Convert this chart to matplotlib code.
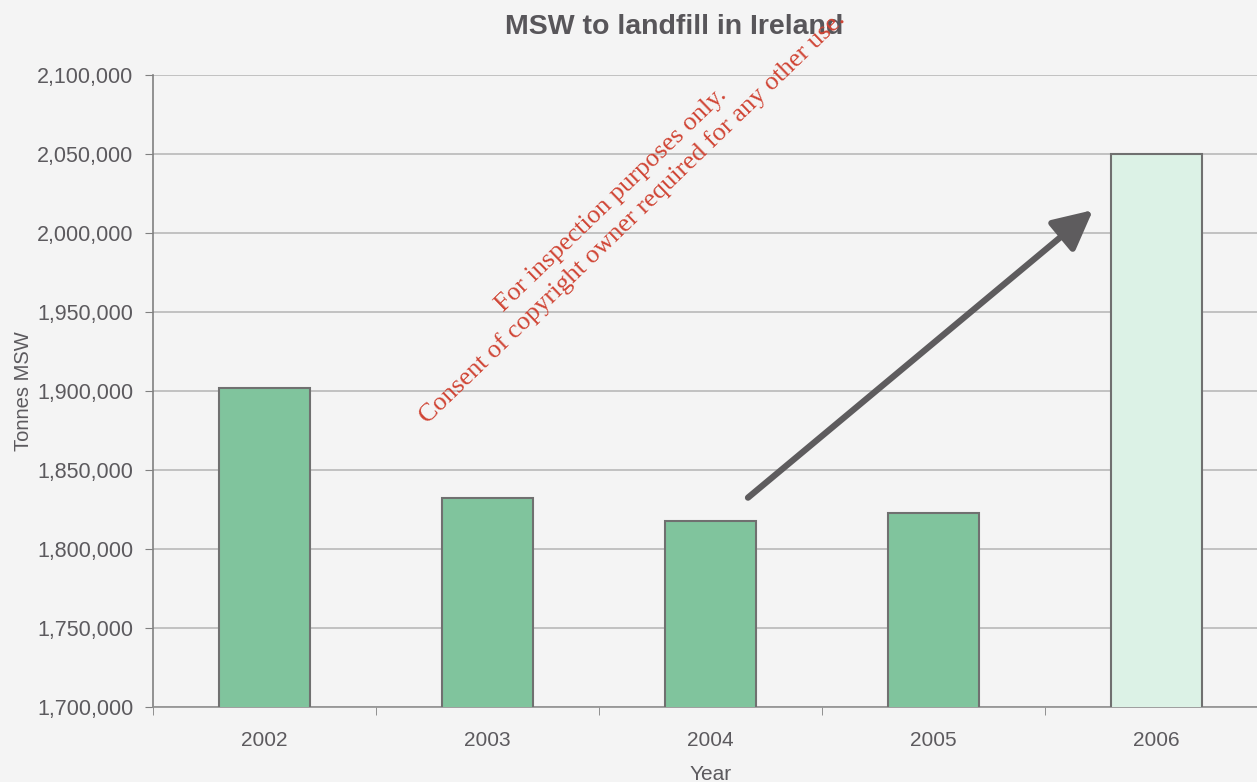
import matplotlib.pyplot as plt
import numpy as np
from matplotlib.ticker import FuncFormatter, FixedLocator

# data
years = ['2002', '2003', '2004', '2005', '2006']
tonnes = [1902000, 1832000, 1818000, 1823000, 2050000]
bar_colors = ['#80c49d', '#80c49d', '#80c49d', '#80c49d', '#dcf2e6']

plt.rcParams['font.family'] = ['Liberation Sans', 'DejaVu Sans']

bg = '#f4f4f4'
text_grey = '#5c5a5e'

fig = plt.figure(figsize=(12.57, 7.82), dpi=100, facecolor=bg)
ax = fig.add_axes([0.1217, 0.0959, 0.8871, 0.8082], facecolor=bg)

x = np.arange(len(years))
ax.bar(x, tonnes, width=0.41, color=bar_colors, edgecolor='#707070',
       linewidth=1.5, zorder=3)

ax.set_xlim(-0.5, len(years) - 0.5)
ax.set_ylim(1700000, 2100000)
ax.set_yticks(np.arange(1700000, 2100001, 50000))
ax.yaxis.set_major_formatter(FuncFormatter(lambda v, p: f'{int(v):,}'))
ax.grid(axis='y', color='#b8b8b8', linewidth=1.2, zorder=0)

ax.set_xticks(x)
ax.set_xticklabels(years)
ax.xaxis.set_minor_locator(FixedLocator(np.arange(-0.5, len(years), 1.0)))
ax.tick_params(axis='x', which='major', length=0, pad=17,
               labelsize=15, labelcolor=text_grey)
ax.tick_params(axis='x', which='minor', length=6, color='#808080')
ax.tick_params(axis='y', length=6, color='#808080', pad=8,
               labelsize=15.5, labelcolor=text_grey)

for side in ['top', 'right']:
    ax.spines[side].set_visible(False)
ax.spines['left'].set_color('#808080')
ax.spines['bottom'].set_color('#909090')
ax.spines['left'].set_linewidth(1.2)
ax.spines['bottom'].set_linewidth(1.2)

ax.set_ylabel('Tonnes MSW', fontsize=14.5, color=text_grey, labelpad=3)
ax.set_xlabel('Year', fontsize=15, color=text_grey, labelpad=11)

# trend arrow
ax.annotate('', xy=(3.715, 2014500), xytext=(2.168, 1832500),
            arrowprops=dict(arrowstyle='-|>,head_length=2.4,head_width=1.2',
                            color='#5e5c5e', lw=4.5, shrinkA=0, shrinkB=0),
            zorder=5)

fig.text(0.536, 0.965, 'MSW to landfill in Ireland', ha='center', va='center',
         fontsize=20.5, fontweight='bold', color='#58565a')

# watermark
fig.text(0.486, 0.745, 'For inspection purposes only.', rotation=44,
         ha='center', va='center', fontsize=19, color='#d04535',
         family='Liberation Serif', rotation_mode='anchor')
fig.text(0.503, 0.722, 'Consent of copyright owner required for any other use.',
         rotation=44, ha='center', va='center', fontsize=19, color='#d04535',
         family='Liberation Serif', rotation_mode='anchor')

fig.savefig('out.png', dpi=100, facecolor=bg)
